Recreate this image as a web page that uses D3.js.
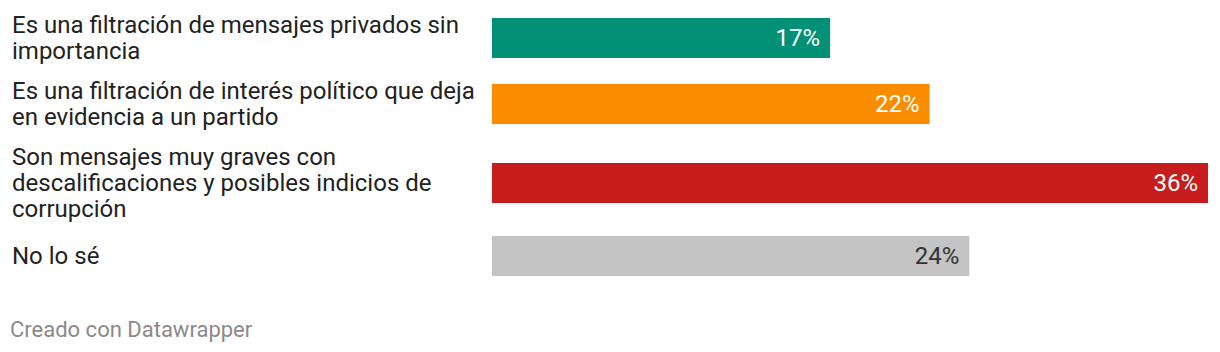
<!DOCTYPE html>
<html>
<head>
<meta charset="utf-8">
<script src="https://cdn.jsdelivr.net/npm/d3@7"></script>
<style>
  body { margin: 0; background: #fff; font-family: Roboto, "Noto Sans", sans-serif; }
</style>
</head>
<body>
<div id="chart"></div>
<script>
// Data
const categories = [
    "Es una filtración de mensajes privados sin importancia",
    "Es una filtración de interés político que deja en evidencia a un partido",
    "Son mensajes muy graves con descalificaciones y posibles indicios de corrupción",
    "No lo sé"
];
const values = [17, 22, 36, 24];
const colors = ["#029176", "#fa8c00", "#c71e1d", "#c4c4c4"];
const labelColors = ["#ffffff", "#ffffff", "#ffffff", "#333333"];
const footer = "Creado con Datawrapper";

const width = 1220, height = 352;
const labelLeft = 12, labelWidth = 470;
const barLeft = 492, barRight = 1208;
const barHeight = 40, lineHeight = 26, rowGap = 14, firstBarTop = 18;
const fontSize = 24;

const svg = d3.select("#chart")
    .append("svg")
    .attr("width", width)
    .attr("height", height);

const x = d3.scaleLinear()
    .domain([0, d3.max(values)])
    .range([barLeft, barRight]);

// measure text to wrap labels
const measure = svg.append("text")
    .attr("font-size", fontSize)
    .style("visibility", "hidden");

function wrap(str) {
    const words = str.split(" ");
    const lines = [];
    let cur = "";
    words.forEach(w => {
        const test = cur ? cur + " " + w : w;
        measure.text(test);
        if (measure.node().getComputedTextLength() > labelWidth && cur) {
            lines.push(cur);
            cur = w;
        } else {
            cur = test;
        }
    });
    if (cur) lines.push(cur);
    return lines;
}

const rows = categories.map((c, i) => ({ label: c, lines: wrap(c), value: values[i], i }));
measure.remove();

// row layout: each row as tall as its bar or its label
let yCursor = null;
rows.forEach(r => {
    r.h = Math.max(barHeight, r.lines.length * lineHeight);
    if (yCursor === null) yCursor = firstBarTop - (r.h - barHeight) / 2;
    r.top = yCursor;
    r.center = r.top + r.h / 2;
    yCursor += r.h + rowGap;
});

const g = svg.selectAll("g.row")
    .data(rows)
    .join("g")
    .attr("class", "row");

// bars
g.append("rect")
    .attr("x", x(0))
    .attr("y", d => d.center - barHeight / 2)
    .attr("width", d => x(d.value) - x(0))
    .attr("height", barHeight)
    .attr("fill", d => colors[d.i]);

// category labels
g.append("text")
    .attr("font-size", fontSize)
    .attr("fill", "#222")
    .selectAll("tspan")
    .data(d => d.lines.map((l, k) => ({ l, k, n: d.lines.length, c: d.center })))
    .join("tspan")
    .attr("x", labelLeft)
    .attr("y", d => d.c + (d.k - (d.n - 1) / 2) * lineHeight + 8)
    .text(d => d.l);

// value labels
g.append("text")
    .attr("x", d => x(d.value) - 10)
    .attr("y", d => d.center + 8)
    .attr("text-anchor", "end")
    .attr("font-size", fontSize)
    .attr("fill", d => labelColors[d.i])
    .text(d => d.value + "%");

// footer
svg.append("text")
    .attr("x", 10)
    .attr("y", 337)
    .attr("font-size", 22)
    .attr("fill", "#8a8a8a")
    .text(footer);
</script>
</body>
</html>
